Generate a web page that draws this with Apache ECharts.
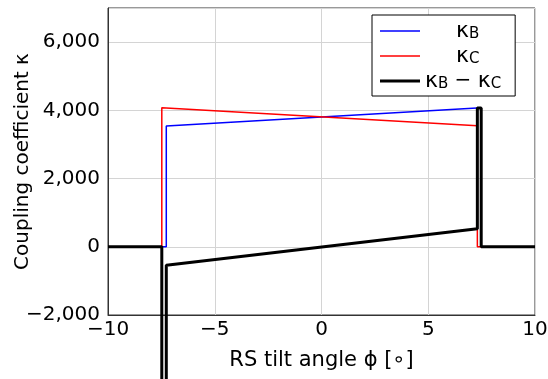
<!DOCTYPE html>
<html><head><meta charset="utf-8">
<script src="https://cdn.jsdelivr.net/npm/echarts@6/dist/echarts.min.js"></script>
<style>html,body{margin:0;padding:0;background:#fff}#c{width:548px;height:379px}</style>
</head><body><div id="c"></div>
<script>
// Data
const kB_x = [-10, -7.27, -7.27, 7.48, 7.48, 10];
const kB_y = [0, 0, 3540, 4075, 0, 0];
const kC_x = [-10, -7.48, -7.48, 7.3, 7.3, 10];
const kC_y = [0, 0, 4075, 3550, 0, 0];
const diff_x = [-10, -7.48, -7.48, -7.27, -7.27, 7.3, 7.3, 7.48, 7.48, 10];
const diff_y = [0, 0, -4070, -4070, -540, 530, 4070, 4070, 0, 0];
const xTicks = [-10, -5, 0, 5, 10];
const yTicks = [-2000, 0, 2000, 4000, 6000];
const seriesNames = ['kB', 'kC', 'kB-kC'];

const zip = (xs, ys) => xs.map((x, i) => [x, ys[i]]);
const FONT = 'DejaVu Sans';
function fmtY(v) {
  const s = Math.abs(v).toLocaleString('en-US');
  return (v < 0 ? '\u2212' : '') + s;
}
function fmtX(v) { return (v < 0 ? '\u2212' : '') + Math.abs(v); }

const chart = echarts.init(document.getElementById('c'), null, {renderer: 'canvas'});
chart.setOption({
  animation: false,
  backgroundColor: '#fff',
  grid: {left: 108, right: 13, top: 8, bottom: 64, show: true, borderColor: '#333', borderWidth: 1,
         containLabel: false, outerBoundsMode: 'none'},
  xAxis: {
    type: 'value', min: xTicks[0], max: xTicks[xTicks.length - 1], interval: 5,
    name: 'RS tilt angle \u03d5 [\u2218]', nameLocation: 'middle', nameGap: 35, nameMoveOverlap: false,
    nameTextStyle: {fontFamily: FONT, fontSize: 21, color: '#000'},
    axisLine: {show: true, onZero: false, lineStyle: {color: '#333'}},
    axisTick: {show: false},
    axisLabel: {fontFamily: FONT, fontSize: 20, color: '#000', margin: 5, formatter: fmtX},
    splitLine: {show: true, lineStyle: {color: '#d4d4d4', width: 1}}
  },
  yAxis: {
    type: 'value', min: yTicks[0], max: 7000, interval: 2000,
    name: 'Coupling coefficient \u03ba', nameLocation: 'middle', nameGap: 75, nameMoveOverlap: false,
    nameTextStyle: {fontFamily: FONT, fontSize: 20, color: '#000'},
    axisLine: {show: true, onZero: false, lineStyle: {color: '#333'}},
    axisTick: {show: false},
    axisLabel: {fontFamily: FONT, fontSize: 20, color: '#000', margin: 8, showMaxLabel: false,
      formatter: v => (yTicks.indexOf(v) >= 0 ? fmtY(v) : '')},
    splitLine: {show: true, lineStyle: {color: '#d4d4d4', width: 1}}
  },
  legend: {
    orient: 'vertical', left: 372, top: 15,
    padding: [5, 14, 4, 8], itemGap: 3, itemWidth: 40, itemHeight: 20,
    backgroundColor: '#fff', borderColor: '#000', borderWidth: 1, borderRadius: 0,
    data: [
      {name: seriesNames[0], icon: 'path://M0,0H40V1.5H0Z'},
      {name: seriesNames[1], icon: 'path://M0,0H40V1.5H0Z'},
      {name: seriesNames[2], icon: 'path://M0,0H40V3H0Z'}
    ],
    formatter: function (name) {
      if (name === 'kB') return '{p|}{k|\u03ba}{s|B}';
      if (name === 'kC') return '{p|}{k|\u03ba}{s|C}';
      return '{k|\u03ba}{s|B}{m| \u2212 }{k|\u03ba}{s|C}';
    },
    textStyle: {
      fontFamily: FONT, color: '#000',
      rich: {
        p: {width: 31},
        k: {fontFamily: FONT, fontSize: 22, color: '#000', lineHeight: 22},
        s: {fontFamily: FONT, fontSize: 15, color: '#000', lineHeight: 22, verticalAlign: 'bottom', padding: [7, 0, 0, 0]},
        m: {fontFamily: FONT, fontSize: 20, color: '#000', lineHeight: 22}
      }
    }
  },
  series: [
    {name: 'kB', type: 'line', data: zip(kB_x, kB_y), symbol: 'none', color: '#0000ff',
     lineStyle: {color: '#0000ff', width: 1.5}, z: 2},
    {name: 'kC', type: 'line', data: zip(kC_x, kC_y), symbol: 'none', color: '#ff0000',
     lineStyle: {color: '#ff0000', width: 1.5}, z: 3},
    {name: 'kB-kC', type: 'line', data: zip(diff_x, diff_y), symbol: 'none', color: '#000',
     lineStyle: {color: '#000', width: 3}, clip: false, z: 4}
  ]
});
</script></body></html>
